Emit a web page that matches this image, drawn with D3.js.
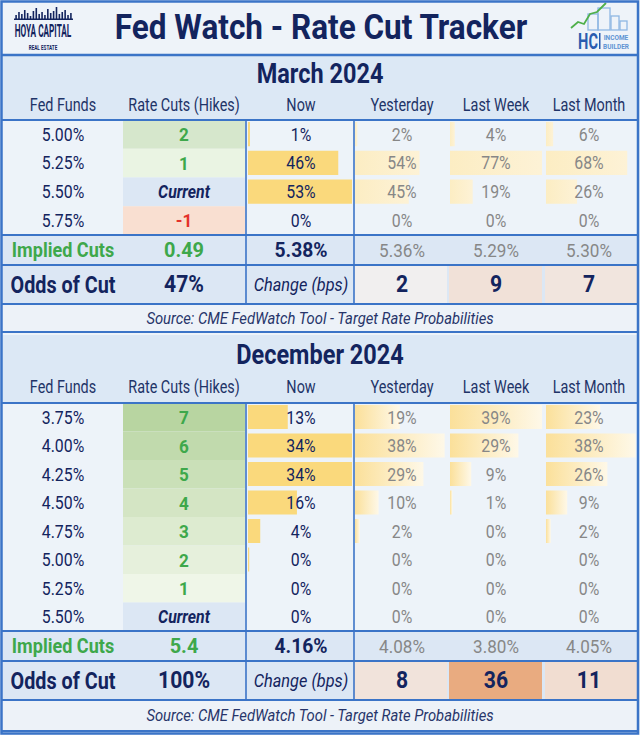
<!DOCTYPE html>
<html><head><meta charset="utf-8">
<script src="https://cdn.jsdelivr.net/npm/d3@7"></script>
<style>body{margin:0;background:#fff;} svg{display:block;}</style>
</head><body><svg id="c" width="640" height="735"></svg>
<script>
// ---------- DATA ----------
const title = "Fed Watch - Rate Cut Tracker";
const columns = ["Fed Funds","Rate Cuts (Hikes)","Now","Yesterday","Last Week","Last Month"];
const source = "Source: CME FedWatch Tool - Target Rate Probabilities";

// March 2024
const marRates = ["5.00%","5.25%","5.50%","5.75%"];
const marCuts = [2,1,0,-1];
const marNow = [1,46,53,0];
const marYesterday = [2,54,45,0];
const marLastWeek = [4,77,19,0];
const marLastMonth = [6,68,26,0];
const marImplied = ["0.49","5.38%","5.36%","5.29%","5.30%"];
const marOdds = "47%";
const marChange = [2,9,7];

// December 2024
const decRates = ["3.75%","4.00%","4.25%","4.50%","4.75%","5.00%","5.25%","5.50%"];
const decCuts = [7,6,5,4,3,2,1,0];
const decNow = [13,34,34,16,4,0.4,0,0];
const decYesterday = [19,38,29,10,2,0,0,0];
const decLastWeek = [39,29,9,1,0,0,0,0];
const decLastMonth = [23,38,26,9,2,0,0,0];
const decImplied = ["5.4","4.16%","4.08%","3.80%","4.05%"];
const decOdds = "100%";
const decChange = [8,36,11];

// logo decoration
const skyline = [5,8,6,10,7,4,9,12,6,8,5,11,7,9,13,6,8,10,5,7];

// ---------- STYLE / LAYOUT ----------
const NAVY = "#13245e", BLUE = "#3b74c7", GREEN = "#3ea84b", RED = "#e4312b", GREY = "#878787";
const FONT = "Roboto, 'Open Sans', sans-serif";
const colC = [63,184,301,402,496,589];
const histX0 = [355,450,546];

const svg = d3.select("#c");
const defs = svg.append("defs");

function txt(g, x, y, s, o = {}) {
  return g.append("text")
    .attr("transform", `translate(${x},${y}) scale(${o.sx || 0.84},${o.sy || 1})`)
    .attr("text-anchor", o.anchor || "middle")
    .attr("dominant-baseline", o.baseline || "central")
    .style("font-family", FONT)
    .style("font-size", (o.size || 18) + "px")
    .style("font-weight", o.weight || 400)
    .style("font-style", o.style || "normal")
    .attr("fill", o.fill || NAVY)
    .text(s);
}
function hline(y, w) {
  svg.append("line").attr("x1", 2).attr("x2", 638).attr("y1", y).attr("y2", y)
    .attr("stroke", BLUE).attr("stroke-width", w || 2);
}
function vline(x, y1, y2) {
  svg.append("line").attr("x1", x).attr("x2", x).attr("y1", y1).attr("y2", y2)
    .attr("stroke", BLUE).attr("stroke-width", 1.6);
}

// ---------- HEADER ----------
svg.append("rect").attr("x", 0).attr("y", 0).attr("width", 640).attr("height", 735).attr("fill", "#edf3f9");
svg.append("rect").attr("x", 2).attr("y", 2).attr("width", 636).attr("height", 53).attr("fill", "#eef3f9");
txt(svg, 321, 27, title, {size: 35, weight: 700, sx: 0.9});

// left logo
const ll = svg.append("g");
const sx = d3.scaleBand().domain(d3.range(skyline.length)).range([14, 73]).padding(0.45);
ll.selectAll("rect").data(skyline).join("rect")
  .attr("x", (d, i) => sx(i)).attr("width", sx.bandwidth())
  .attr("y", d => 20 - d).attr("height", d => d).attr("fill", NAVY);
ll.append("rect").attr("x", 14).attr("y", 18.5).attr("width", 59).attr("height", 1.5).attr("fill", NAVY);
txt(ll, 43, 37, "HOYA CAPITAL", {size: 8.5, weight: 700, sx: 0.97, sy: 2.1, baseline: "alphabetic"});
txt(ll, 43, 50, "REAL ESTATE", {size: 7, weight: 700, sx: 0.66, baseline: "alphabetic"});

// right logo
const rl = svg.append("g");
const bld = [[588, 14, 10, 16], [598, 8, 12, 22], [611, 16, 8, 14], [620, 21, 7, 9]];
rl.selectAll("rect.b").data(bld).join("rect").attr("class", "b")
  .attr("x", d => d[0]).attr("y", d => d[1]).attr("width", d => d[2]).attr("height", d => d[3])
  .attr("fill", "none").attr("stroke", "#8fb7e3").attr("stroke-width", 1.3);
rl.append("path").attr("d", "M571,28 L578,22 L584,24 L590,14 L597,12 L606,3")
  .attr("fill", "none").attr("stroke", "#4fb04a").attr("stroke-width", 1.8);
txt(rl, 588, 49, "HC", {size: 15, weight: 700, sx: 0.97, sy: 1.45, baseline: "alphabetic", fill: "#2a5db0"});
rl.append("rect").attr("x", 599).attr("y", 33).attr("width", 1.5).attr("height", 16).attr("fill", "#2a5db0");
txt(rl, 616, 39.5, "INCOME", {size: 6.5, weight: 700, sx: 1, sy: 1.1, baseline: "alphabetic", fill: "#5f93d3"});
txt(rl, 616, 48.5, "BUILDER", {size: 6.5, weight: 700, sx: 1, sy: 1.1, baseline: "alphabetic", fill: "#5f93d3"});

// ---------- SECTIONS ----------
const sections = [
  {name: "March 2024", rates: marRates, cuts: marCuts, now: marNow,
   hist: [marYesterday, marLastWeek, marLastMonth], implied: marImplied, odds: marOdds, change: marChange,
   top: 56, titleH: 33, headH: 31, rowH: 28.75, impH: 30, oddsH: 39, srcH: 28,
   cutLight: "#eaf4e3", cutDark: "#d6e7cc", gradient: false},
  {name: "December 2024", rates: decRates, cuts: decCuts, now: decNow,
   hist: [decYesterday, decLastWeek, decLastMonth], implied: decImplied, odds: decOdds, change: decChange,
   top: 335, titleH: 36, headH: 32, rowH: 28.5, impH: 30, oddsH: 39, srcH: 31,
   cutLight: "#eff6e8", cutDark: "#b8d5a1", gradient: true}
];

const allChange = marChange.concat(decChange);
const changeColor = d3.scaleLinear().domain([0, d3.max(allChange)])
  .range(["#f1f3f6", "#e9ab80"]).interpolate(d3.interpolateLab);

// gradients for history bars
const gSolid = defs.append("linearGradient").attr("id", "histSolid");
gSolid.append("stop").attr("offset", "0%").attr("stop-color", "#fcedc3");
gSolid.append("stop").attr("offset", "100%").attr("stop-color", "#fdf2d6");
const gFade = defs.append("linearGradient").attr("id", "histFade");
gFade.append("stop").attr("offset", "0%").attr("stop-color", "#fbe09a");
gFade.append("stop").attr("offset", "100%").attr("stop-color", "#fef8e8");

sections.forEach(s => {
  const g = svg.append("g");
  let y = s.top;
  g.append("rect").attr("x", 2).attr("y", y).attr("width", 636).attr("height", s.titleH + s.headH).attr("fill", "#dce8f5");
  txt(g, 320, y + s.titleH / 2 + 1, s.name, {size: 28, weight: 700, sx: 0.84});
  const hy = y + s.titleH + s.headH / 2;
  columns.forEach((c, i) => txt(g, colC[i], hy, c, {size: 18, sx: 0.8, fill: "#1f3468"}));
  y += s.titleH + s.headH;
  const dataTop = y;
  const n = s.rates.length;
  const yB = d3.scaleBand().domain(d3.range(n)).range([dataTop, dataTop + n * s.rowH]);

  g.append("rect").attr("x", 2).attr("y", dataTop).attr("width", 636).attr("height", n * s.rowH).attr("fill", "#edf3f9");

  // rate-cut cells
  const cutColor = d3.scaleLinear().domain([1, d3.max(s.cuts)]).range([s.cutLight, s.cutDark]).interpolate(d3.interpolateLab);
  g.selectAll("rect.cut").data(s.cuts).join("rect").attr("class", "cut")
    .attr("x", 123).attr("width", 122).attr("y", (d, i) => yB(i)).attr("height", yB.bandwidth())
    .attr("fill", d => d > 0 ? cutColor(d) : d === 0 ? "#dce7f4" : "#f9dfd1");

  // now bars
  const xNow = d3.scaleLinear().domain([0, d3.max(s.now)]).range([0, 104]);
  g.selectAll("rect.now").data(s.now).join("rect").attr("class", "now")
    .attr("x", 248).attr("y", (d, i) => yB(i) + 2).attr("height", yB.bandwidth() - 4.5)
    .attr("width", d => xNow(d)).attr("fill", "#fad97c");

  // history bars
  const xHist = d3.scaleLinear().domain([0, d3.max(s.hist.flat())]).range([0, 92]);
  s.hist.forEach((arr, k) => {
    g.selectAll("rect.h" + k).data(arr).join("rect").attr("class", "h" + k)
      .attr("x", histX0[k]).attr("y", (d, i) => yB(i) + 2).attr("height", yB.bandwidth() - 4.5)
      .attr("width", d => xHist(d)).attr("fill", s.gradient ? "url(#histFade)" : "url(#histSolid)");
  });

  // texts in data rows
  s.rates.forEach((r, i) => {
    const cy = yB(i) + yB.bandwidth() / 2;
    txt(g, colC[0], cy, r, {sx: 0.88});
    const c = s.cuts[i];
    if (c === 0) txt(g, colC[1], cy, "Current", {weight: 700, style: "italic", sx: 0.88});
    else txt(g, colC[1], cy, String(c), {size: 19, weight: 700, fill: c > 0 ? GREEN : RED, sx: 0.9});
    txt(g, colC[2], cy, Math.round(s.now[i]) + "%", {sx: 0.88});
    s.hist.forEach((arr, k) => txt(g, colC[3 + k], cy, Math.round(arr[i]) + "%", {sx: 0.88, fill: GREY}));
  });
  y = dataTop + n * s.rowH;

  // implied row
  const impTop = y;
  g.append("rect").attr("x", 2).attr("y", y).attr("width", 636).attr("height", s.impH).attr("fill", "#dce7f4");
  let cy = y + s.impH / 2;
  txt(g, colC[0], cy, "Implied Cuts", {size: 21, weight: 700, fill: GREEN, sx: 0.86});
  txt(g, colC[1], cy, s.implied[0], {size: 21, weight: 700, fill: GREEN, sx: 0.95});
  txt(g, colC[2], cy, s.implied[1], {size: 21, weight: 700, sx: 0.92});
  s.implied.slice(2).forEach((v, k) => txt(g, colC[3 + k], cy, v, {size: 19, fill: GREY, sx: 0.9}));
  y += s.impH;

  // odds row
  g.append("rect").attr("x", 2).attr("y", y).attr("width", 636).attr("height", s.oddsH).attr("fill", "#dce7f4");
  g.selectAll("rect.chg").data(s.change).join("rect").attr("class", "chg")
    .attr("x", (d, k) => histX0[k] - 1).attr("width", 93).attr("y", y + 1).attr("height", s.oddsH - 2)
    .attr("fill", d => changeColor(d));
  cy = y + s.oddsH / 2;
  txt(g, colC[0], cy, "Odds of Cut", {size: 23, weight: 700, sx: 0.86});
  txt(g, colC[1], cy, s.odds, {size: 23, weight: 700, sx: 0.92});
  txt(g, colC[2], cy, "Change (bps)", {size: 19, style: "italic", sx: 0.86});
  s.change.forEach((v, k) => txt(g, colC[3 + k], cy, String(v), {size: 23, weight: 700, sx: 0.92}));
  y += s.oddsH;
  const oddsBottom = y;

  // source row
  g.append("rect").attr("x", 2).attr("y", y).attr("width", 636).attr("height", s.srcH).attr("fill", "#edf2f8");
  txt(g, 320, y + s.srcH / 2, source, {size: 17, style: "italic", sx: 0.87, fill: "#27356a"});
  y += s.srcH;

  // lines
  hline(dataTop, 2);
  hline(impTop, 2);
  hline(impTop + s.impH, 2);
  hline(oddsBottom, 2);
  hline(y, 2);
  vline(246, dataTop, oddsBottom);
  vline(354, dataTop, oddsBottom);
  s.bottom = y;
});

hline(55, 2.5);
svg.append("rect").attr("x", 1.5).attr("y", 1.5).attr("width", 636.5).attr("height", 732)
  .attr("fill", "none").attr("stroke", BLUE).attr("stroke-width", 2.5);
</script>
</body></html>
